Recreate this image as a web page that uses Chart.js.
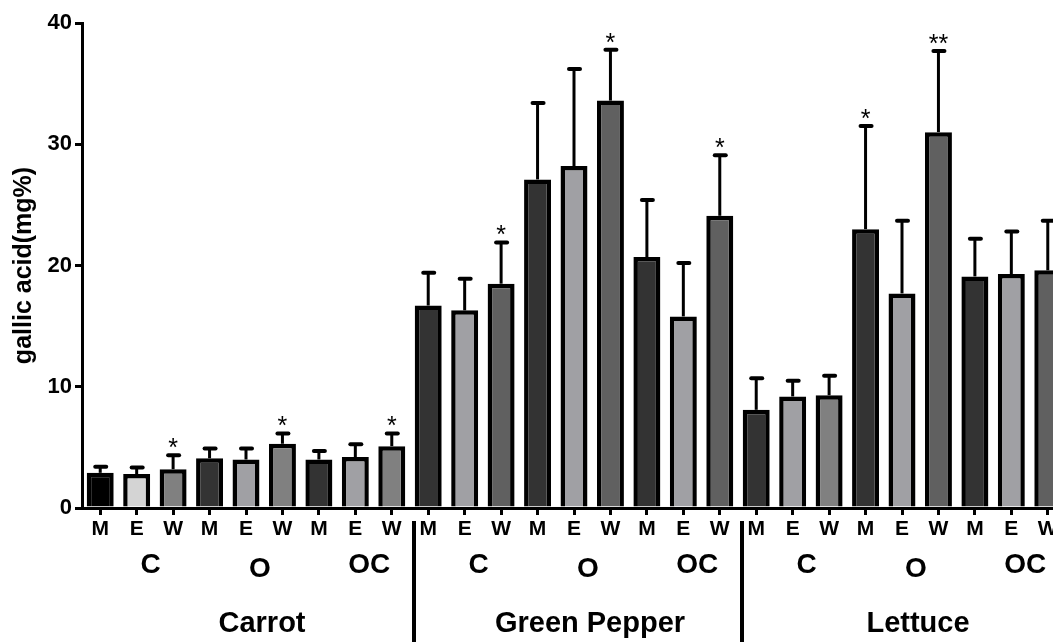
<!DOCTYPE html>
<html>
<head>
<meta charset="utf-8">
<script src="https://cdn.jsdelivr.net/npm/chart.js@4.4.0/dist/chart.umd.min.js"></script>
<style>
  html, body { margin: 0; padding: 0; background: #fff; overflow: hidden; }
  #wrap { width: 1053px; height: 642px; overflow: hidden; }
  canvas { display: block; }
</style>
</head>
<body>
<div id="wrap"><canvas id="grafico" width="1080" height="642"></canvas></div>
<script>
// ==========================================
// DADOS
// ==========================================
const vegetais = ['Carrot', 'Green Pepper', 'Lettuce'];
const tratamentos = ['C', 'O', 'OC'];
const extratos = ['M', 'E', 'W'];
const ticksY = [0, 10, 20, 30, 40];

// média e erro (só a barra de cima) por vegetal, ordem C-M,E,W / O-M,E,W / OC-M,E,W
const cenoura = [2.9, 2.8, 3.2, 4.1, 4.0, 5.3, 4.0, 4.2, 5.1];
const cenouraErro = [0.5, 0.55, 1.15, 0.8, 0.9, 0.85, 0.7, 1.05, 1.05];
const pimentao = [16.7, 16.3, 18.5, 27.1, 28.2, 33.6, 20.7, 15.8, 24.1];
const pimentaoErro = [2.7, 2.6, 3.4, 6.3, 8.0, 4.2, 4.7, 4.4, 5.0];
const alface = [8.1, 9.2, 9.3, 23.0, 17.7, 31.0, 19.1, 19.3, 19.6];
const alfaceErro = [2.6, 1.3, 1.6, 8.5, 6.0, 6.7, 3.1, 3.5, 4.1];

// asteriscos de significância
const cenouraSig = ['', '', '*', '', '', '*', '', '', '*'];
const pimentaoSig = ['', '', '*', '', '', '*', '', '', '*'];
const alfaceSig = ['', '', '', '*', '', '**', '', '', ''];

// ==========================================
// ESTILO
// ==========================================
const coresBarras = [
    '#000000', '#d4d4d4', '#808080', '#333333', '#a0a0a4', '#808080', '#333333', '#a0a0a4', '#808080',
    '#333333', '#a0a0a4', '#606060', '#333333', '#a0a0a4', '#606060', '#333333', '#a0a0a4', '#606060',
    '#333333', '#a0a0a4', '#808080', '#333333', '#a0a0a4', '#606060', '#333333', '#a0a0a4', '#606060'
];
const fonte = '"Liberation Sans", Arial, sans-serif';

// montar listas completas
const rotulos = [];
vegetais.forEach(() => tratamentos.forEach(() => extratos.forEach(e => rotulos.push(e))));
const medias = [...cenoura, ...pimentao, ...alface];
const erros = [...cenouraErro, ...pimentaoErro, ...alfaceErro];
const sig = [...cenouraSig, ...pimentaoSig, ...alfaceSig];

// ==========================================
// PLUGIN: barras de erro, asteriscos, rótulos de grupo
// ==========================================
const pluginExtras = {
    id: 'extras',
    afterDatasetsDraw(chart) {
        const ctx = chart.ctx;
        const sx = chart.scales.x;
        const sy = chart.scales.y;
        ctx.save();
        ctx.strokeStyle = '#000';
        ctx.fillStyle = '#000';
        medias.forEach((v, i) => {
            const px = sx.getPixelForValue(i);
            const yBarra = sy.getPixelForValue(v);
            const yTopo = sy.getPixelForValue(v + erros[i]);
            ctx.lineWidth = 3;
            ctx.lineCap = 'butt';
            ctx.beginPath();
            ctx.moveTo(px, yBarra);
            ctx.lineTo(px, yTopo);
            ctx.stroke();
            ctx.lineWidth = 4;
            ctx.lineCap = 'round';
            ctx.beginPath();
            ctx.moveTo(px - 5, yTopo);
            ctx.lineTo(px + 6, yTopo);
            ctx.stroke();
            if (sig[i]) {
                ctx.font = '25px ' + fonte;
                ctx.textAlign = 'center';
                ctx.textBaseline = 'alphabetic';
                ctx.fillText(sig[i], px, yTopo + 1);
            }
        });
        ctx.restore();
    },
    afterDraw(chart) {
        const ctx = chart.ctx;
        const sx = chart.scales.x;
        ctx.save();
        ctx.fillStyle = '#000';
        ctx.strokeStyle = '#000';
        ctx.textAlign = 'center';
        ctx.textBaseline = 'middle';
        const n = extratos.length * tratamentos.length;
        vegetais.forEach((veg, v) => {
            tratamentos.forEach((t, k) => {
                const idx = v * n + k * extratos.length + 1;
                ctx.font = 'bold 28px ' + fonte;
                ctx.fillText(t, sx.getPixelForValue(idx) + 14, k === 1 ? 569 : 565);
            });
            const meio = v * n + 4;
            ctx.font = 'bold 29px ' + fonte;
            ctx.fillText(veg, sx.getPixelForValue(meio) + 16, 624);
            // separador vertical
            if (v > 0) {
                const xs = (sx.getPixelForValue(v * n - 1) + sx.getPixelForValue(v * n)) / 2 + 4;
                ctx.lineWidth = 4;
                ctx.beginPath();
                ctx.moveTo(xs, 521);
                ctx.lineTo(xs, 642);
                ctx.stroke();
            }
        });
        ctx.restore();
    }
};

// ==========================================
// GRÁFICO
// ==========================================
const ctx = document.getElementById('grafico').getContext('2d');
const myChart = new Chart(ctx, {
    type: 'bar',
    data: {
        labels: rotulos,
        datasets: [{
            data: medias,
            backgroundColor: coresBarras,
            borderColor: '#000',
            borderWidth: 4.5,
            barPercentage: 0.74,
            categoryPercentage: 1.0
        }]
    },
    options: {
        responsive: false,
        animation: false,
        devicePixelRatio: 1,
        layout: { padding: { top: 23, right: 14, left: 0, bottom: 0 } },
        plugins: { legend: { display: false }, tooltip: { enabled: false } },
        scales: {
            x: {
                grid: { display: true, offset: false, drawOnChartArea: false, drawTicks: true, tickLength: 7, color: '#000', lineWidth: 3 },
                border: { display: true, color: '#000', width: 3 },
                ticks: {
                    color: '#000', autoSkip: false, maxRotation: 0, padding: 2,
                    font: { family: fonte, weight: 'bold', size: 21 }
                },
                afterFit: s => { s.height = 134; }
            },
            y: {
                min: ticksY[0],
                max: ticksY[ticksY.length - 1],
                grid: { display: true, drawOnChartArea: false, drawTicks: true, tickLength: 7, color: '#000', lineWidth: 3 },
                border: { display: true, color: '#000', width: 3 },
                ticks: {
                    stepSize: ticksY[1] - ticksY[0], color: '#000', padding: 3,
                    font: { family: fonte, weight: 'bold', size: 22 }
                },
                title: {
                    display: true, text: 'gallic acid(mg%)', color: '#000',
                    font: { family: fonte, weight: 'bold', size: 25 },
                    padding: { top: 9, bottom: 0 }
                },
                afterFit: s => { s.width = 82; }
            }
        }
    },
    plugins: [pluginExtras]
});
</script>
</body>
</html>
